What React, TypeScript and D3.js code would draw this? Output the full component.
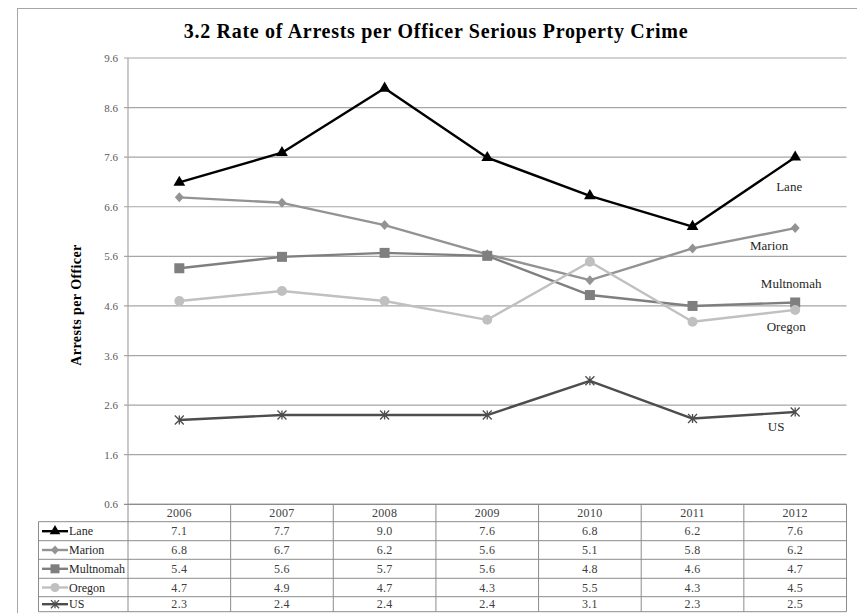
import { useEffect, useRef } from 'react';
import * as d3 from 'd3';

const years = ['2006', '2007', '2008', '2009', '2010', '2011', '2012'];
const yTicks = [0.6, 1.6, 2.6, 3.6, 4.6, 5.6, 6.6, 7.6, 8.6, 9.6];

const lane = [7.09, 7.69, 8.99, 7.59, 6.82, 6.2, 7.6];
const marion = [6.79, 6.68, 6.23, 5.64, 5.12, 5.76, 6.17];
const multnomah = [5.36, 5.59, 5.67, 5.61, 4.82, 4.6, 4.67];
const oregon = [4.7, 4.9, 4.7, 4.32, 5.49, 4.28, 4.52];
const us = [2.3, 2.4, 2.4, 2.4, 3.09, 2.33, 2.46];

type Shape = 'triangle' | 'diamond' | 'square' | 'circle' | 'star';

const series: { name: string; values: number[]; color: string; shape: Shape }[] = [
  { name: 'Lane', values: lane, color: '#000000', shape: 'triangle' },
  { name: 'Marion', values: marion, color: '#939393', shape: 'diamond' },
  { name: 'Multnomah', values: multnomah, color: '#7f7f7f', shape: 'square' },
  { name: 'Oregon', values: oregon, color: '#c0c0c0', shape: 'circle' },
  { name: 'US', values: us, color: '#4d4d4d', shape: 'star' },
];

// label offsets from the last point
const labelOffsets: Record<string, [number, number]> = {
  Lane: [-6, 34],
  Marion: [-26, 22],
  Multnomah: [-4, -14],
  Oregon: [-9, 21],
  US: [-19, 19],
};

const W = 857;
const H = 613;
const FONT = '"Liberation Serif", "Times New Roman", serif';

function drawMarker(g: d3.Selection<SVGGElement, unknown, null, undefined>, shape: Shape, x: number, y: number, color: string, s = 1) {
  if (shape === 'triangle') {
    g.append('path').attr('d', d3.symbol(d3.symbolTriangle, 60 * s * s)()).attr('transform', `translate(${x},${y})`).attr('fill', color);
  } else if (shape === 'diamond') {
    g.append('path').attr('d', `M0,-5L4.5,0L0,5L-4.5,0Z`).attr('transform', `translate(${x},${y}) scale(${s})`).attr('fill', color);
  } else if (shape === 'square') {
    g.append('rect').attr('x', x - 5 * s).attr('y', y - 5 * s).attr('width', 10 * s).attr('height', 10 * s).attr('fill', color);
  } else if (shape === 'circle') {
    g.append('circle').attr('cx', x).attr('cy', y).attr('r', 5 * s).attr('fill', color);
  } else {
    const r = 4.5 * s;
    const p = `M${-r},${-r}L${r},${r}M${-r},${r}L${r},${-r}M0,${-r}L0,${r}`;
    g.append('path').attr('d', p).attr('transform', `translate(${x},${y})`).attr('stroke', color).attr('stroke-width', 1.3).attr('fill', 'none');
  }
}

export default function App() {
  const svgRef = useRef<SVGSVGElement>(null);

  useEffect(() => {
    if (!svgRef.current) return;
    const svg = d3.select(svgRef.current);
    svg.selectAll('*').remove();

    const x = d3.scaleBand<string>().domain(years).range([128, 846.5]);
    const y = d3.scaleLinear().domain([0.6, 9.6]).range([504.3, 58]);
    const fmt = d3.format('.1f');

    svg.append('rect').attr('width', W).attr('height', H).attr('fill', '#fff');
    // outer chart border
    svg.append('rect').attr('x', 17.5).attr('y', 8.5).attr('width', 860).attr('height', 640)
      .attr('fill', 'none').attr('stroke', '#a6a6a6').attr('stroke-width', 1);

    svg.append('text')
      .attr('x', 436).attr('y', 38)
      .attr('text-anchor', 'middle')
      .attr('font-family', FONT).attr('font-weight', 'bold').attr('font-size', 20)
      .attr('letter-spacing', 0.7)
      .attr('fill', '#000')
      .text('3.2 Rate of Arrests per Officer Serious Property Crime');

    // gridlines
    const grid = svg.append('g');
    yTicks.forEach(t => {
      grid.append('line')
        .attr('x1', 124).attr('x2', x.range()[1])
        .attr('y1', y(t)).attr('y2', y(t))
        .attr('stroke', t === 0.6 ? '#8c8c8c' : '#a6a6a6').attr('stroke-width', 1.2);
      grid.append('text')
        .attr('x', 118).attr('y', y(t) + 4)
        .attr('text-anchor', 'end')
        .attr('font-family', FONT).attr('font-size', 11).attr('fill', '#595959')
        .text(fmt(t));
    });
    // y axis line
    grid.append('line').attr('x1', 128).attr('x2', 128).attr('y1', y(9.6)).attr('y2', y(0.6))
      .attr('stroke', '#a6a6a6').attr('stroke-width', 1.2);

    svg.append('text')
      .attr('transform', `translate(81,305) rotate(-90)`)
      .attr('text-anchor', 'middle')
      .attr('font-family', FONT).attr('font-weight', 'bold').attr('font-size', 14)
      .attr('letter-spacing', 0.4)
      .attr('fill', '#000')
      .text('Arrests per Officer');

    const cx = (yr: string) => (x(yr) ?? 0) + x.bandwidth() / 2;

    const line = d3.line<number>()
      .x((_, i) => cx(years[i]))
      .y(d => y(d));

    const marks = svg.append('g');
    series.forEach(s => {
      marks.append('path')
        .attr('d', line(s.values))
        .attr('fill', 'none')
        .attr('stroke', s.color)
        .attr('stroke-width', 2.4)
        .attr('stroke-linejoin', 'round');
      const g = marks.append('g');
      s.values.forEach((v, i) => drawMarker(g as any, s.shape, cx(years[i]), y(v), s.color));
      const last = s.values.length - 1;
      const [dx, dy] = labelOffsets[s.name];
      marks.append('text')
        .attr('x', cx(years[last]) + dx)
        .attr('y', y(s.values[last]) + dy)
        .attr('text-anchor', 'middle')
        .attr('font-family', FONT).attr('font-size', 13).attr('fill', '#262626')
        .text(s.name);
    });

    // data table
    const table = svg.append('g');
    const rowLines = [504.3, 521.7, 540.7, 559.3, 578.3, 596.7, 611.7];
    const tableLeft = 38.5;
    const right = x.range()[1];
    const stroke = '#8c8c8c';
    // horizontal lines
    rowLines.forEach((ry, i) => {
      table.append('line')
        .attr('x1', i === 0 ? 128 : tableLeft).attr('x2', right)
        .attr('y1', ry).attr('y2', ry)
        .attr('stroke', stroke).attr('stroke-width', 1);
    });
    // vertical lines
    table.append('line').attr('x1', tableLeft).attr('x2', tableLeft).attr('y1', rowLines[1]).attr('y2', rowLines[6])
      .attr('stroke', stroke);
    [...years.map(yr => x(yr) ?? 0), right].forEach(vx => {
      table.append('line').attr('x1', vx).attr('x2', vx).attr('y1', rowLines[0]).attr('y2', rowLines[6])
        .attr('stroke', stroke);
    });
    years.forEach(yr => {
      table.append('text')
        .attr('x', cx(yr)).attr('y', (rowLines[0] + rowLines[1]) / 2 + 4)
        .attr('text-anchor', 'middle')
        .attr('font-family', FONT).attr('font-size', 12).attr('letter-spacing', 0.3).attr('fill', '#404040')
        .text(yr);
    });
    series.forEach((s, r) => {
      const my = (rowLines[r + 1] + rowLines[r + 2]) / 2;
      table.append('line').attr('x1', 42).attr('x2', 68).attr('y1', my).attr('y2', my)
        .attr('stroke', s.color).attr('stroke-width', 2.4);
      drawMarker(table as any, s.shape, 55, my, s.color, 0.9);
      table.append('text')
        .attr('x', 69).attr('y', my + 4)
        .attr('font-family', FONT).attr('font-size', 12).attr('fill', '#262626')
        .text(s.name);
      s.values.forEach((v, i) => {
        table.append('text')
          .attr('x', cx(years[i])).attr('y', my + 4)
          .attr('text-anchor', 'middle')
          .attr('font-family', FONT).attr('font-size', 12).attr('letter-spacing', 0.3).attr('fill', '#404040')
          .text(fmt(v));
      });
    });
  }, []);

  return (
    <svg ref={svgRef} width={W} height={H}
      style={{ position: 'absolute', left: 0, top: 0, display: 'block' }} />
  );
}
